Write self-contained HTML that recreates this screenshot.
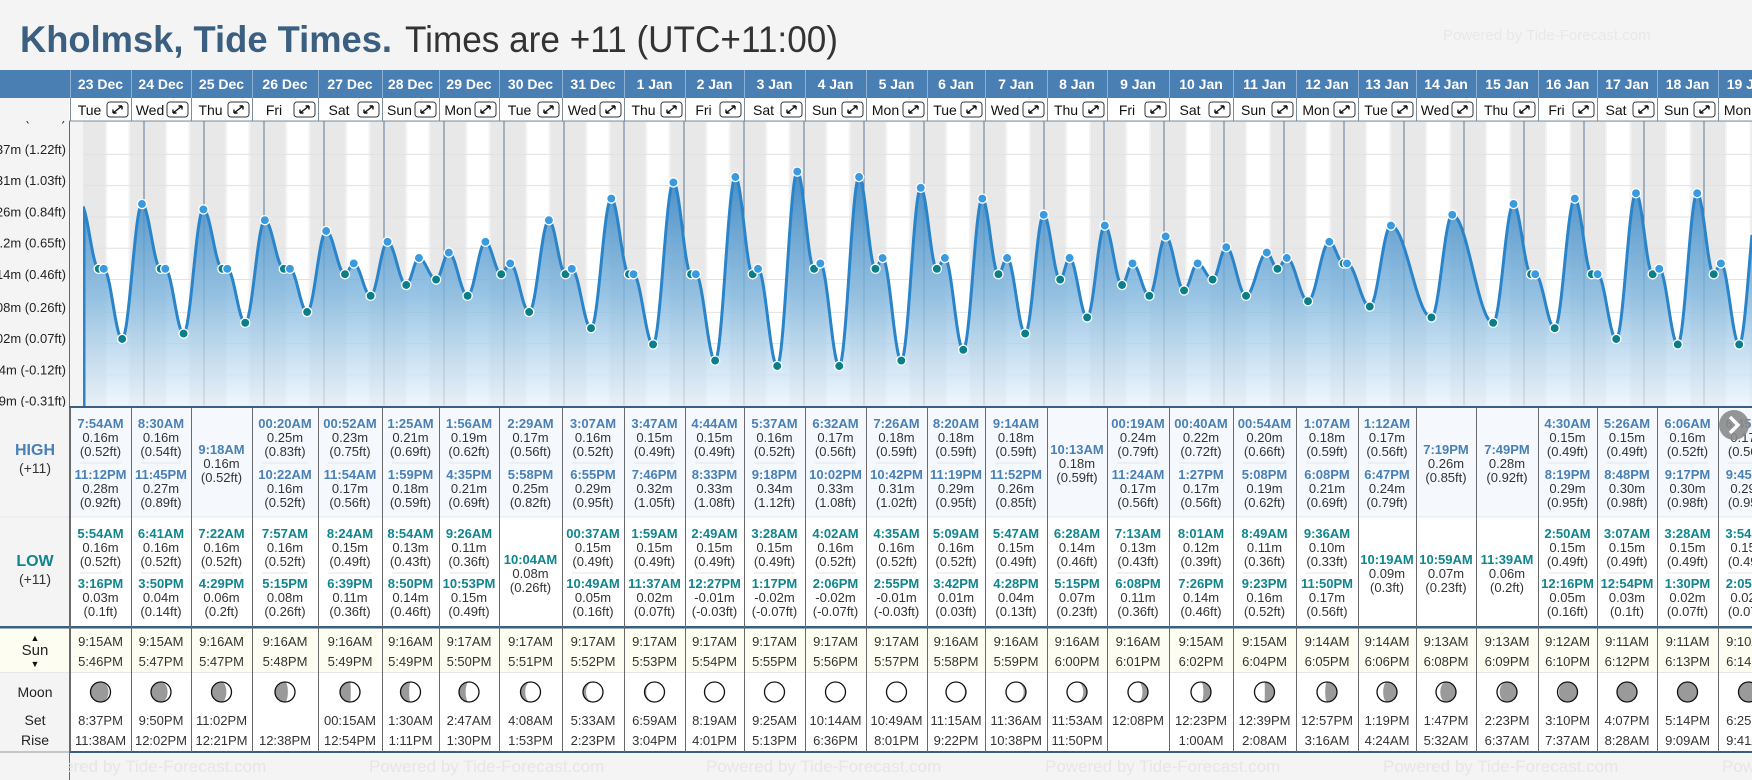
<!DOCTYPE html>
<html><head><meta charset="utf-8"><title>Kholmsk Tide Times</title>
<style>
html,body{margin:0;padding:0;background:#f4f4f4;}
svg{display:block;font-family:"Liberation Sans",Arial,sans-serif;}
</style></head>
<body>
<svg id="root" width="1752" height="780" viewBox="0 0 1752 780" xmlns="http://www.w3.org/2000/svg">
<defs>
<linearGradient id="areaGrad" gradientUnits="userSpaceOnUse" x1="0" y1="160" x2="0" y2="407">
<stop offset="0" stop-color="#2f7fc0" stop-opacity="0.92"/>
<stop offset="0.55" stop-color="#7fb6de" stop-opacity="0.8"/>
<stop offset="1" stop-color="#e8f3fc" stop-opacity="0.7"/>
</linearGradient>
<clipPath id="chartClip"><rect x="83" y="121" width="1669" height="286"/></clipPath>
<clipPath id="axisClip"><rect x="0" y="121" width="69" height="286"/></clipPath>
</defs>
<rect x="0" y="0" width="1752" height="780" fill="#f4f4f4"/>
<text x="20" y="52" font-size="37" font-weight="bold" fill="#3a5f80" textLength="372" lengthAdjust="spacingAndGlyphs">Kholmsk, Tide Times.</text>
<text x="405" y="52" font-size="37" fill="#333" textLength="433" lengthAdjust="spacingAndGlyphs">Times are +11 (UTC+11:00)</text>
<text x="1443" y="40" font-size="15" fill="#e8e8e8">Powered by Tide-Forecast.com</text>
<g id="layer"></g>
</svg>
<script>
// ---- data ----
const dates=["23 Dec","24 Dec","25 Dec","26 Dec","27 Dec","28 Dec","29 Dec","30 Dec","31 Dec","1 Jan","2 Jan","3 Jan","4 Jan","5 Jan","6 Jan","7 Jan","8 Jan","9 Jan","10 Jan","11 Jan","12 Jan","13 Jan","14 Jan","15 Jan","16 Jan","17 Jan","18 Jan","19 Jan"];
const dows=["Tue","Wed","Thu","Fri","Sat","Sun","Mon","Tue","Wed","Thu","Fri","Sat","Sun","Mon","Tue","Wed","Thu","Fri","Sat","Sun","Mon","Tue","Wed","Thu","Fri","Sat","Sun","Mon"];
const highTimes=[["7:54AM","11:12PM"],["8:30AM","11:45PM"],["9:18AM"],["00:20AM","10:22AM"],["00:52AM","11:54AM"],["1:25AM","1:59PM"],["1:56AM","4:35PM"],["2:29AM","5:58PM"],["3:07AM","6:55PM"],["3:47AM","7:46PM"],["4:44AM","8:33PM"],["5:37AM","9:18PM"],["6:32AM","10:02PM"],["7:26AM","10:42PM"],["8:20AM","11:19PM"],["9:14AM","11:52PM"],["10:13AM"],["00:19AM","11:24AM"],["00:40AM","1:27PM"],["00:54AM","5:08PM"],["1:07AM","6:08PM"],["1:12AM","6:47PM"],["7:19PM"],["7:49PM"],["4:30AM","8:19PM"],["5:26AM","8:48PM"],["6:06AM","9:17PM"],["6:45AM","9:45PM"]];
const highM=[[0.16,0.28],[0.16,0.27],[0.16],[0.25,0.16],[0.23,0.17],[0.21,0.18],[0.19,0.21],[0.17,0.25],[0.16,0.29],[0.15,0.32],[0.15,0.33],[0.16,0.34],[0.17,0.33],[0.18,0.31],[0.18,0.29],[0.18,0.26],[0.18],[0.24,0.17],[0.22,0.17],[0.20,0.19],[0.18,0.21],[0.17,0.24],[0.26],[0.28],[0.15,0.29],[0.15,0.30],[0.16,0.30],[0.17,0.29]];
const highFt=[["0.52","0.92"],["0.54","0.89"],["0.52"],["0.83","0.52"],["0.75","0.56"],["0.69","0.59"],["0.62","0.69"],["0.56","0.82"],["0.52","0.95"],["0.49","1.05"],["0.49","1.08"],["0.52","1.12"],["0.56","1.08"],["0.59","1.02"],["0.59","0.95"],["0.59","0.85"],["0.59"],["0.79","0.56"],["0.72","0.56"],["0.66","0.62"],["0.59","0.69"],["0.56","0.79"],["0.85"],["0.92"],["0.49","0.95"],["0.49","0.98"],["0.52","0.98"],["0.56","0.95"]];
const lowTimes=[["5:54AM","3:16PM"],["6:41AM","3:50PM"],["7:22AM","4:29PM"],["7:57AM","5:15PM"],["8:24AM","6:39PM"],["8:54AM","8:50PM"],["9:26AM","10:53PM"],["10:04AM"],["00:37AM","10:49AM"],["1:59AM","11:37AM"],["2:49AM","12:27PM"],["3:28AM","1:17PM"],["4:02AM","2:06PM"],["4:35AM","2:55PM"],["5:09AM","3:42PM"],["5:47AM","4:28PM"],["6:28AM","5:15PM"],["7:13AM","6:08PM"],["8:01AM","7:26PM"],["8:49AM","9:23PM"],["9:36AM","11:50PM"],["10:19AM"],["10:59AM"],["11:39AM"],["2:50AM","12:16PM"],["3:07AM","12:54PM"],["3:28AM","1:30PM"],["3:54AM","2:05PM"]];
const lowM=[[0.16,0.03],[0.16,0.04],[0.16,0.06],[0.16,0.08],[0.15,0.11],[0.13,0.14],[0.11,0.15],[0.08],[0.15,0.05],[0.15,0.02],[0.15,-0.01],[0.15,-0.02],[0.16,-0.02],[0.16,-0.01],[0.16,0.01],[0.15,0.04],[0.14,0.07],[0.13,0.11],[0.12,0.14],[0.11,0.16],[0.10,0.17],[0.09],[0.07],[0.06],[0.15,0.05],[0.15,0.03],[0.15,0.02],[0.15,0.02]];
const lowFt=[["0.52","0.1"],["0.52","0.14"],["0.52","0.2"],["0.52","0.26"],["0.49","0.36"],["0.43","0.46"],["0.36","0.49"],["0.26"],["0.49","0.16"],["0.49","0.07"],["0.49","-0.03"],["0.49","-0.07"],["0.52","-0.07"],["0.52","-0.03"],["0.52","0.03"],["0.49","0.13"],["0.46","0.23"],["0.43","0.36"],["0.39","0.46"],["0.36","0.52"],["0.33","0.56"],["0.3"],["0.23"],["0.2"],["0.49","0.16"],["0.49","0.1"],["0.49","0.07"],["0.49","0.07"]];
const sunrise=["9:15AM","9:15AM","9:16AM","9:16AM","9:16AM","9:16AM","9:17AM","9:17AM","9:17AM","9:17AM","9:17AM","9:17AM","9:17AM","9:17AM","9:16AM","9:16AM","9:16AM","9:16AM","9:15AM","9:15AM","9:14AM","9:14AM","9:13AM","9:13AM","9:12AM","9:11AM","9:11AM","9:10AM"];
const sunset=["5:46PM","5:47PM","5:47PM","5:48PM","5:49PM","5:49PM","5:50PM","5:51PM","5:52PM","5:53PM","5:54PM","5:55PM","5:56PM","5:57PM","5:58PM","5:59PM","6:00PM","6:01PM","6:02PM","6:04PM","6:05PM","6:06PM","6:08PM","6:09PM","6:10PM","6:12PM","6:13PM","6:14PM"];
const moonset=["8:37PM","9:50PM","11:02PM","","00:15AM","1:30AM","2:47AM","4:08AM","5:33AM","6:59AM","8:19AM","9:25AM","10:14AM","10:49AM","11:15AM","11:36AM","11:53AM","12:08PM","12:23PM","12:39PM","12:57PM","1:19PM","1:47PM","2:23PM","3:10PM","4:07PM","5:14PM","6:25PM"];
const moonrise=["11:38AM","12:02PM","12:21PM","12:38PM","12:54PM","1:11PM","1:30PM","1:53PM","2:23PM","3:04PM","4:01PM","5:13PM","6:36PM","8:01PM","9:22PM","10:38PM","11:50PM","","1:00AM","2:08AM","3:16AM","4:24AM","5:32AM","6:37AM","7:37AM","8:28AM","9:09AM","9:41AM"];
const moonAge=[3,4,5,6,7,8,9,10,11,12,13,14,15,16,17,18,19,20,21,22,23,24,25,26,27,28,29,0.5];
const tickFt=[1.42,1.22,1.03,0.84,0.65,0.46,0.26,0.07,-0.12,-0.31];
const tickM=["0.43m","0.37m","0.31m","0.26m","0.2m","0.14m","0.08m","0.02m","-0.04m","-0.09m"];

// ---- layout ----
const NS="http://www.w3.org/2000/svg";
const layer=document.getElementById('layer');
const colB=[70,131,191,252,318,382,439,499,562,624,685,744,805,866,927,985,1047,1107,1169,1233,1296,1358,1416,1476,1538,1597,1657,1718,1779];
function el(tag,attrs,parent){const e=document.createElementNS(NS,tag);for(const k in attrs)e.setAttribute(k,attrs[k]);(parent||layer).appendChild(e);return e;}
function txt(x,y,s,attrs,parent){const e=el('text',Object.assign({x:x,y:y},attrs),parent);e.textContent=s;return e;}
function hrs(t){const m=t.match(/(\d+):(\d+)(AM|PM)/);let h=(+m[1])%12;if(m[3]==='PM')h+=12;return h+(+m[2])/60;}
const xOf=h=>84+h*2.5;
const yOfM=m=>355.2-540*m;
const yOfFt=f=>yOfM(f*0.3048);

const bg=el('rect',{x:69,y:121,width:1683,height:286,fill:'#f4f4f4'});


const chartG=el('g',{'clip-path':'url(#chartClip)'});


el('rect',{x:83,y:121,width:1669,height:286,fill:'#e8e8e8'},chartG);
for(let d=0;d<dates.length;d++){
  const r=hrs(sunrise[d])+d*24, s=hrs(sunset[d])+d*24;
  const tw=el('rect',{x:xOf(r-0.75),y:121,width:xOf(s+0.75)-xOf(r-0.75),height:286,fill:'#f2f2f2'},chartG);
  
  
  const dy=el('rect',{x:xOf(r),y:121,width:xOf(s)-xOf(r),height:286,fill:'#ffffff'},chartG);
  
  
}
tickFt.forEach(f=>{
  const g=el('line',{x1:83,x2:1752,y1:yOfFt(f),y2:yOfFt(f),stroke:'#e2e2e2','stroke-width':1},chartG);
  
  
});
for(let d=1;d<=28;d++){
  const ml=el('line',{x1:xOf(d*24),x2:xOf(d*24),y1:121,y2:407,stroke:'#5b7690','stroke-width':1},chartG);
  
  
}
const ext=[{t:-1.3,v:0.28,hi:true,dot:false}];
for(let d=0;d<dates.length;d++){
  highTimes[d].forEach((t,i)=>ext.push({t:d*24+hrs(t),v:highM[d][i],hi:true,dot:true}));
  lowTimes[d].forEach((t,i)=>ext.push({t:d*24+hrs(t),v:lowM[d][i],hi:false,dot:true}));
}
ext.push({t:28*24+10,v:0.14,hi:false,dot:false});
ext.sort((a,b)=>a.t-b.t);
function val(t){
  for(let i=0;i<ext.length-1;i++){
    const a=ext[i],b=ext[i+1];
    if(t>=a.t&&t<=b.t){const f=(t-a.t)/(b.t-a.t);return a.v+(b.v-a.v)*(1-Math.cos(Math.PI*f))/2;}
  }
  return ext[ext.length-1].v;
}
let line='',area='M83,407';
for(let x=83;x<=1752;x++){const y=yOfM(val((x-84)/2.5)).toFixed(1);line+=(x===83?'M':'L')+x+','+y;area+='L'+x+','+y;}
area+='L1752,407Z';
const ar=el('path',{d:area,fill:'url(#areaGrad)'},chartG);


const ln=el('path',{d:line,fill:'none',stroke:'#2a84c9','stroke-width':3},chartG);


const sl=el('line',{x1:84,x2:84,y1:yOfM(val(0)),y2:407,stroke:'#2a84c9','stroke-width':3},chartG);


ext.forEach(e=>{
  if(!e.dot)return;
  const c=el('circle',{cx:xOf(e.t),cy:yOfM(e.v),r:4.6,fill:e.hi?'#3a9ae0':'#0b7f88',stroke:'#ffffff','stroke-width':1.3},chartG);
  
  
});
const axG=el('g',{'clip-path':'url(#axisClip)'});
tickFt.forEach((f,i)=>{
  const t=txt(66,yOfFt(f)-0.5,tickM[i]+' ('+f+'ft)',{'font-size':13,'text-anchor':'end',fill:'#222'},axG);
  
  
});
el('line',{x1:69.5,x2:69.5,y1:121,y2:407,stroke:'#666','stroke-width':1});
el('rect',{x:69,y:406,width:1683,height:2.5,fill:'#3a5f80'});

const hb=el('rect',{x:0,y:70,width:1752,height:28,fill:'#4a7fb4'});


el('rect',{x:0,y:98,width:69,height:23,fill:'#f4f4f4'});
el('rect',{x:69,y:98,width:1683,height:23,fill:'#ffffff'});
el('line',{x1:69,x2:1752,y1:121,y2:121,stroke:'#7c8d9c','stroke-width':1});
el('rect',{x:0,y:408,width:1752,height:109,fill:'#f5f9fd'});
el('rect',{x:0,y:517,width:1752,height:110,fill:'#ffffff'});
el('rect',{x:0,y:628,width:1752,height:44,fill:'#fdfdf1'});
el('rect',{x:0,y:673,width:1752,height:79,fill:'#ffffff'});
el('rect',{x:0,y:408,width:69,height:344,fill:'#f4f4f4'});
el('rect',{x:0,y:628,width:69,height:44,fill:'#fdfdf1'});
el('line',{x1:0,x2:1752,y1:517,y2:517,stroke:'#e4e8ec','stroke-width':1});
el('rect',{x:0,y:626,width:1752,height:2.5,fill:'#3a5f80'});
el('line',{x1:0,x2:1752,y1:672.5,y2:672.5,stroke:'#e6e6e6','stroke-width':1});
el('rect',{x:69,y:751,width:1683,height:2,fill:'#3a5f80'});
el('line',{x1:0,x2:69,y1:752,y2:752,stroke:'#999','stroke-width':1});
[['HIGH',455,'#4a80b4',true,16],['(+11)',473,'#333',false,14],['LOW',566,'#0f858e',true,16],['(+11)',584,'#333',false,14],['▲',641,'#111',false,9],['Sun',655,'#222',false,15],['▼',667,'#111',false,9],['Moon',697,'#222',false,14],['Set',725,'#222',false,14],['Rise',745,'#222',false,14]].forEach(a=>{
  const t=txt(35,a[1],a[0],{'font-size':a[4],'text-anchor':'middle',fill:a[2],'font-weight':a[3]?'bold':'normal'});
  
  
});

function moonIcon(cx,cy,age){
  const r=10,ph=age/29.53*2*Math.PI;
  const g=el('g',{});
  
  
  el('circle',{cx:cx,cy:cy,r:r,fill:'#9a9a9a'},g);
  const rx=Math.abs(Math.cos(ph))*r;
  let d;
  if(ph<Math.PI){const sw=ph<Math.PI/2?0:1;d=`M${cx},${cy-r}A${r},${r} 0 0 1 ${cx},${cy+r}A${rx},${r} 0 0 ${sw} ${cx},${cy-r}Z`;}
  else{const sw=ph>1.5*Math.PI?1:0;d=`M${cx},${cy-r}A${r},${r} 0 0 0 ${cx},${cy+r}A${rx},${r} 0 0 ${sw} ${cx},${cy-r}Z`;}
  el('path',{d:d,fill:'#ffffff'},g);
  el('circle',{cx:cx,cy:cy,r:r,fill:'none',stroke:'#111','stroke-width':1.3},g);
}
function entry(cx,y,time,m,ft,color,name){
  const a=txt(cx,y,time,{'font-size':13,'font-weight':'bold','text-anchor':'middle',fill:color});
  
  
  const b=txt(cx,y+14,(m<0?'-':'')+Math.abs(m).toFixed(2)+'m',{'font-size':13,'text-anchor':'middle',fill:'#333'});
  
  
  const c=txt(cx,y+28,'('+ft+'ft)',{'font-size':13,'text-anchor':'middle',fill:'#333'});
  
  
}
for(let d=0;d<dates.length;d++){
  const L=colB[d],R=colB[d+1],cx=(L+R)/2,w=R-L;
  const dt=txt(cx,89,dates[d],{'font-size':14,'font-weight':'bold','text-anchor':'middle',fill:'#ffffff'});
  
  
  const dw=txt(L+(w-24)/2+1,115,dows[d],{'font-size':14,'text-anchor':'middle',fill:'#111'});
  
  
  const ib=el('g',{});
  
  
  const bx=R-24,by=102;
  el('rect',{x:bx,y:by,width:21,height:15,rx:3,fill:'#fff',stroke:'#333','stroke-width':1},ib);
  el('path',{d:`M${bx+6},${by+11}L${bx+15},${by+4}M${bx+6},${by+11}l0,-3.5M${bx+6},${by+11}l3.5,0M${bx+15},${by+4}l-3.5,0M${bx+15},${by+4}l0,3.5`,stroke:'#111','stroke-width':1.4,fill:'none'},ib);
  el('line',{x1:L+0.5,x2:L+0.5,y1:70,y2:98,stroke:'#8eb0d2','stroke-width':1});
  el('line',{x1:L+0.5,x2:L+0.5,y1:98,y2:121,stroke:'#7c8d9c','stroke-width':1});
  el('line',{x1:L+0.5,x2:L+0.5,y1:408,y2:752,stroke:'#6a6a6a','stroke-width':1});
  if(highTimes[d].length===2){
    entry(cx,428,highTimes[d][0],highM[d][0],highFt[d][0],'#4a80b4','high-tide');
    el('line',{x1:L+10,x2:R-10,y1:463,y2:463,stroke:'#e2e6ea'});
    entry(cx,479,highTimes[d][1],highM[d][1],highFt[d][1],'#4a80b4','high-tide');
  } else entry(cx,454,highTimes[d][0],highM[d][0],highFt[d][0],'#4a80b4','high-tide');
  if(lowTimes[d].length===2){
    entry(cx,538,lowTimes[d][0],lowM[d][0],lowFt[d][0],'#0f858e','low-tide');
    el('line',{x1:L+10,x2:R-10,y1:573,y2:573,stroke:'#e6e6e6'});
    entry(cx,588,lowTimes[d][1],lowM[d][1],lowFt[d][1],'#0f858e','low-tide');
  } else entry(cx,564,lowTimes[d][0],lowM[d][0],lowFt[d][0],'#0f858e','low-tide');
  const sr=txt(cx,646,sunrise[d],{'font-size':13,'text-anchor':'middle',fill:'#333'});
  
  
  const ss=txt(cx,666,sunset[d],{'font-size':13,'text-anchor':'middle',fill:'#333'});
  
  
  moonIcon(cx,692,moonAge[d]);
  const ms=txt(cx,725,moonset[d],{'font-size':13,'text-anchor':'middle',fill:'#333'});
  
  
  const mr=txt(cx,745,moonrise[d],{'font-size':13,'text-anchor':'middle',fill:'#333'});
  
  
}
el('line',{x1:69.5,x2:69.5,y1:408,y2:780,stroke:'#6a6a6a','stroke-width':1});
const nb=el('g',{});


el('circle',{cx:1734,cy:425,r:15,fill:'#8a8a8a','fill-opacity':0.9},nb);
el('path',{d:'M1730,417L1738,425L1730,433',stroke:'#fff','stroke-width':3.5,fill:'none'},nb);
[31,369,706,1045,1383,1722].forEach(x=>{
  const w=txt(x,772,'Powered by Tide-Forecast.com',{'font-size':17,fill:'#e6e6e6'});
  
  
});
el('rect',{x:0,y:753,width:69,height:27,fill:'#f4f4f4'});
</script>
</body></html>
